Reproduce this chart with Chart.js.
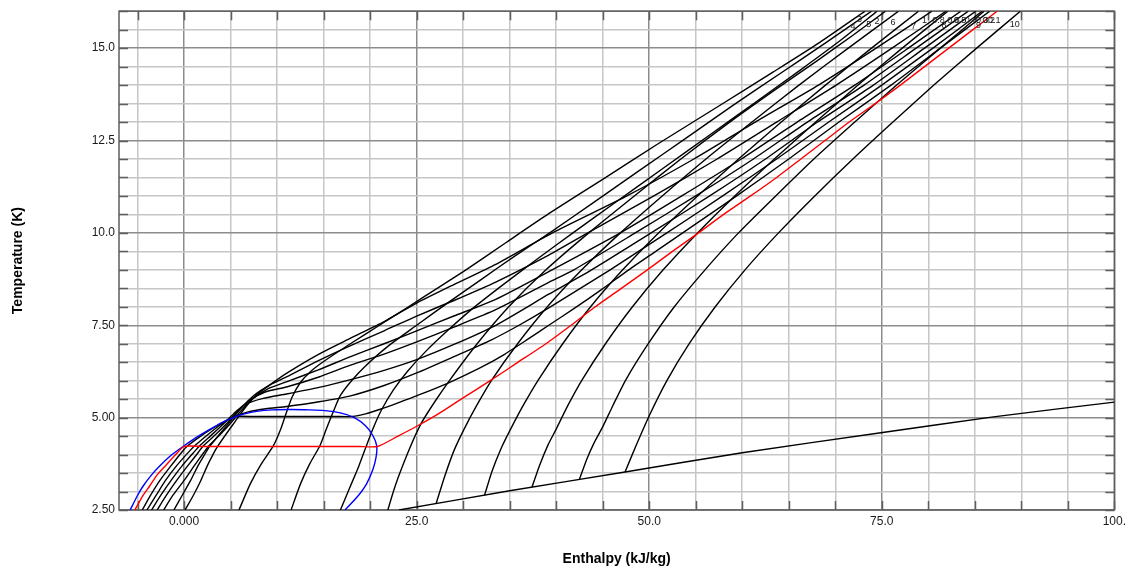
<!DOCTYPE html>
<html>
<head>
<meta charset="utf-8">
<script src="https://cdn.jsdelivr.net/npm/chart.js@4"></script>
<style>
  html, body { margin: 0; padding: 0; background: #fff; }
  #wrap { width: 1130px; height: 574px; }
</style>
</head>
<body>
<div id="wrap"><canvas id="chart"></canvas></div>
<script>
// axis grid and tick labels
const x_grid_values = [-5, 0, 5, 10, 15, 20, 25, 30, 35, 40, 45, 50, 55, 60, 65, 70, 75, 80, 85, 90, 95, 100];
const x_label_values = [0, 25, 50, 75, 100];
const x_label_texts = ['0.000', '25.0', '50.0', '75.0', '100.'];
const y_grid_values = [2.5, 3, 3.5, 4, 4.5, 5, 5.5, 6, 6.5, 7, 7.5, 8, 8.5, 9, 9.5, 10, 10.5, 11, 11.5, 12, 12.5, 13, 13.5, 14, 14.5, 15, 15.5, 16];
const y_label_values = [2.5, 5, 7.5, 10, 12.5, 15];
const y_label_texts = ['2.50', '5.00', '7.50', '10.0', '12.5', '15.0'];

// curves, [enthalpy kJ/kg, temperature K]
const sat_dome = [[-5.8,2.5],[-5.0,2.9],[-4.4,3.15],[-3.5,3.45],[-2.6,3.7],[-1.3,4.0],[0,4.24],[1.4,4.48],[2.8,4.69],[4.0,4.86],[5.3,5.0],[6.5,5.1],[7.8,5.17],[9.5,5.21],[11.5,5.22],[13.5,5.21],[15.1,5.19],[16.8,5.13],[18.3,5.0],[19.5,4.78],[20.3,4.51],[20.7,4.24],[20.65,3.95],[20.3,3.6],[19.6,3.2],[18.6,2.85],[17.3,2.5]];

const isobar_0_1 = [[-5.3,2.5],[-4.4,2.9],[-3.7,3.15],[-2.9,3.45],[-2.0,3.7],[-0.9,4.0],[0,4.22],[2,4.22],[18.8,4.22],[20.8,4.22],[23,4.5],[25.1,4.78],[27.5,5.13],[29.9,5.52],[32.9,6.0],[35.9,6.5],[38.9,7.0],[41.6,7.5],[44.2,8.0],[47.0,8.5],[49.8,9.0],[52.5,9.5],[55.3,10.0],[58.0,10.5],[60.9,11.0],[63.7,11.5],[66.3,12.0],[68.9,12.5],[71.5,13.0],[74.3,13.5],[77.0,14.0],[79.6,14.5],[82.2,15.0],[84.8,15.5],[87.4,16.0]];
const isobar_0_2 = [[-4.5,2.5],[-3.6,2.9],[-2.6,3.3],[-1.4,3.7],[-0.3,4.05],[0.3,4.22],[1.9,4.52],[3.4,4.76],[4.5,4.92],[5.6,5.03],[7.5,5.03],[16.2,5.03],[18.1,5.03],[19.5,5.1],[21,5.22],[23,5.4],[25.3,5.62],[28.5,5.95],[31.7,6.33],[34.5,6.72],[37,7.13],[39.2,7.5],[41.9,7.95],[44.9,8.47],[47.8,9.0],[50.7,9.5],[53.6,10.0],[59.4,11.0],[65.0,12.0],[70.4,13.0],[76.0,14.0],[81.3,15.0],[86.6,16.0]];
const isobar_0_3 = [[-4.0,2.5],[-3.0,2.9],[-2.0,3.3],[-0.8,3.7],[0.6,4.1],[1.2,4.25],[2.6,4.55],[4.0,4.82],[5.3,5.02],[6.8,5.15],[8.8,5.24],[11,5.3],[14.5,5.43],[17.9,5.59],[21.5,5.87],[25,6.21],[29,6.65],[33,7.1],[36,7.5],[39.2,7.97],[45.8,9.0],[51.9,10.0],[57.9,11.0],[63.7,12.0],[69.3,13.0],[75.0,14.0],[80.5,15.0],[85.8,16.0]];
const isobar_0_4 = [[-3.5,2.5],[-2.5,2.9],[-1.4,3.3],[-0.2,3.7],[1.0,4.05],[1.6,4.22],[2.9,4.52],[4.1,4.8],[5.3,5.1],[6.5,5.35],[8.5,5.52],[11,5.64],[14.5,5.82],[17.9,6.03],[21.5,6.28],[25,6.57],[29,6.98],[33.5,7.5],[39.2,8.34],[43.8,9.0],[50.2,10.0],[56.5,11.0],[62.5,12.0],[68.1,13.0],[74.1,14.0],[79.6,15.0],[85.1,16.0]];
const isobar_0_5 = [[-2.9,2.5],[-1.9,2.9],[-0.8,3.3],[0.4,3.7],[1.5,4.05],[2.0,4.22],[3.3,4.52],[4.5,4.82],[5.7,5.15],[7,5.47],[8.8,5.7],[11,5.83],[14.5,6.1],[17.9,6.42],[21.5,6.72],[25,7.05],[29,7.45],[33.5,7.92],[39.2,8.66],[41.9,9.0],[48.5,10.0],[55,11.0],[61.2,12.0],[67,13.0],[73.1,14.0],[78.7,15.0],[84.3,16.0]];
const isobar_0_6 = [[-2.2,2.5],[-1.2,2.9],[0,3.3],[1.1,3.7],[2.1,4.05],[2.6,4.22],[3.8,4.52],[4.9,4.82],[6.0,5.15],[7.3,5.5],[9,5.78],[11,5.97],[14.5,6.3],[17.9,6.65],[21.5,7.0],[25,7.35],[29,7.75],[33.5,8.2],[39.2,8.95],[46.9,10.0],[53.5,11.0],[59.9,12.0],[65.9,13.0],[72.1,14.0],[77.85,15.0],[83.5,16.0]];
const isobar_0_8 = [[-1.1,2.5],[-0.2,2.9],[0.7,3.3],[1.5,3.7],[2.2,4.0],[2.75,4.22],[3.8,4.55],[4.9,4.88],[6.1,5.25],[7.5,5.6],[9.2,5.88],[11,6.1],[14.5,6.55],[17.9,6.95],[21.5,7.35],[25,7.75],[29,8.17],[33.5,8.67],[39.2,9.4],[43.4,10.0],[50.5,11.0],[57.3,12.0],[63.7,13.0],[70.1,14.0],[76.1,15.0],[81.9,16.0]];
const isobar_1_0 = [[0.1,2.5],[1.0,2.9],[1.8,3.3],[2.5,3.7],[3.1,4.0],[3.6,4.22],[4.5,4.55],[5.5,4.9],[6.6,5.28],[7.8,5.62],[9.4,5.92],[11,6.2],[14.5,6.72],[17.9,7.15],[21.5,7.6],[25,8.1],[29,8.6],[33.5,9.15],[39.6,10.0],[47.6,11.0],[54.8,12.0],[61.4,13.0],[68.2,14.0],[74.4,15.0],[80.4,16.0]];

const isentrope_2 = [[5.9,2.5],[7.1,3.2],[8.3,3.75],[9.6,4.24],[10.4,4.7],[11.0,5.14],[11.6,5.55],[12.5,5.95],[13.6,6.25],[15,6.52],[18,7.02],[21,7.5],[24,7.98],[27.2,8.5],[30.3,9.0],[34.5,9.72],[39.2,10.52],[45,11.45],[51,12.42],[57.4,13.42],[63.3,14.35],[68.3,15.15],[73.2,16.0]];
const isentrope_3 = [[11.5,2.5],[12.5,3.2],[13.5,3.75],[14.6,4.24],[15.3,4.7],[16.0,5.14],[16.8,5.6],[18.0,6.0],[19.5,6.4],[22,6.95],[25,7.5],[28.3,8.1],[32,8.75],[35.7,9.4],[39.3,10.0],[44,10.82],[49,11.7],[54,12.57],[59,13.45],[64,14.3],[69,15.15],[73.9,16.0]];
const isentrope_4 = [[16.8,2.5],[17.8,3.1],[18.8,3.7],[19.6,4.24],[20.3,4.7],[21.2,5.2],[22.5,5.75],[24,6.25],[26,6.8],[28.3,7.35],[31,7.95],[34.3,8.6],[38,9.3],[41.8,10.0],[46.5,10.85],[51.5,11.75],[56.5,12.65],[61.5,13.55],[66.2,14.4],[70.5,15.2],[74.5,16.0]];
const isentrope_5 = [[21.9,2.5],[22.5,3.0],[23.1,3.44],[24.3,4.2],[25.5,4.85],[27.0,5.45],[28.6,6.03],[31.5,7.0],[34.9,8.0],[38.9,9.0],[43.5,10.0],[48.4,11.0],[53.4,12.0],[58.4,12.95],[63.4,13.85],[68.0,14.65],[71.9,15.35],[75.4,16.0]];
const isentrope_6 = [[27.1,2.68],[28.0,3.4],[29.0,4.1],[30.1,4.69],[31.5,5.35],[33.1,6.03],[35.85,7.0],[39.05,8.0],[42.75,9.0],[46.9,10.0],[51.4,11.0],[56.1,12.0],[61.05,13.0],[66.1,14.0],[71.4,15.0],[76.8,16.0]];
const isentrope_7 = [[32.3,2.9],[33.1,3.55],[34.1,4.18],[35.1,4.69],[36.5,5.35],[38.1,6.03],[40.7,7.0],[43.7,8.0],[47.15,9.0],[51.0,10.0],[55.2,11.0],[59.6,12.0],[64.2,13.0],[68.95,14.0],[73.9,15.0],[78.95,16.0]];
const isentrope_8 = [[37.4,3.12],[38.2,3.7],[39.1,4.25],[40.0,4.69],[41.3,5.35],[42.8,6.03],[45.3,7.0],[48.2,8.0],[51.5,9.0],[55.2,10.0],[59.2,11.0],[63.45,12.0],[67.9,13.0],[72.45,14.0],[77.2,15.0],[82.1,16.0]];
const isentrope_9 = [[42.5,3.33],[43.3,3.88],[44.1,4.33],[45.0,4.75],[46.1,5.33],[47.5,6.03],[49.9,7.0],[52.7,8.0],[56.0,9.0],[59.6,10.0],[63.6,11.0],[67.7,12.0],[72.1,13.0],[76.6,14.0],[81.3,15.0],[86.0,16.0]];
const isentrope_10 = [[47.4,3.53],[48.6,4.25],[50.0,5.05],[51.9,6.0],[54.3,7.0],[57.1,8.0],[60.3,9.0],[63.9,10.0],[67.8,11.0],[71.9,12.0],[76.2,13.0],[80.6,14.0],[85.2,15.0],[89.9,16.0]];

const lower_bound = [[23.1,2.5],[35,3.02],[47.4,3.53],[60,4.05],[74.9,4.59],[87,5.02],[100,5.42]];

// little tags at the top ends of the lines
const tag_texts = ['3', '4', '5', '2', '6', '7', '1', '0.8', '8', '0.6', '0.5', '0.4', '9', '0.3', '0.2', '0.1', '10'];
const tag_h = [72.6, 71.9, 73.6, 74.5, 76.2, 78.4, 79.6, 81.1, 81.7, 82.7, 83.4, 84.6, 85.4, 85.8, 86.5, 87.1, 89.3];
const tag_T = [15.78, 15.58, 15.64, 15.73, 15.69, 15.58, 15.76, 15.76, 15.60, 15.76, 15.76, 15.76, 15.62, 15.76, 15.76, 15.76, 15.64];

const font_family = '"Liberation Sans", Arial, sans-serif';
const grid_major = '#8c8c8c';
const grid_minor = '#c6c6c6';

Chart.defaults.font.family = font_family;

function make_set(pairs, color, width) {
    return {
        data: pairs.map(p => ({x: p[0], y: p[1]})),
        showLine: true,
        borderColor: color,
        backgroundColor: color,
        borderWidth: width,
        pointRadius: 0,
        pointHoverRadius: 0,
        tension: 0.2,
        fill: false
    };
}

// first ones end up on top
const datasets = [
    make_set(isobar_0_1, '#ff0000', 1.4),
    make_set(sat_dome, '#0000ff', 1.4),
    make_set(isobar_0_2, '#000000', 1.4),
    make_set(isobar_0_3, '#000000', 1.4),
    make_set(isobar_0_4, '#000000', 1.4),
    make_set(isobar_0_5, '#000000', 1.4),
    make_set(isobar_0_6, '#000000', 1.4),
    make_set(isobar_0_8, '#000000', 1.4),
    make_set(isobar_1_0, '#000000', 1.4),
    make_set(isentrope_2, '#000000', 1.4),
    make_set(isentrope_3, '#000000', 1.4),
    make_set(isentrope_4, '#000000', 1.4),
    make_set(isentrope_5, '#000000', 1.4),
    make_set(isentrope_6, '#000000', 1.4),
    make_set(isentrope_7, '#000000', 1.4),
    make_set(isentrope_8, '#000000', 1.4),
    make_set(isentrope_9, '#000000', 1.4),
    make_set(isentrope_10, '#000000', 1.4),
    make_set(lower_bound, '#000000', 1.4)
];

// frame plus the short inward ticks on all four sides
const frame_ticks = {
    id: 'frame_ticks',
    beforeDatasetsDraw(chart) {
        const {ctx, chartArea: a, scales: {x, y}} = chart;
        ctx.save();
        ctx.strokeStyle = '#5e5e5e';
        ctx.lineWidth = 1.5;
        ctx.beginPath();
        x_grid_values.forEach(v => {
            const px = Math.round(x.getPixelForValue(v)) + 0.5;
            ctx.moveTo(px, a.bottom);
            ctx.lineTo(px, a.bottom - 9);
            ctx.moveTo(px, a.top);
            ctx.lineTo(px, a.top + 9);
        });
        y_grid_values.forEach(v => {
            const py = Math.round(y.getPixelForValue(v)) + 0.5;
            ctx.moveTo(a.left, py);
            ctx.lineTo(a.left + 9, py);
            ctx.moveTo(a.right, py);
            ctx.lineTo(a.right - 9, py);
        });
        ctx.stroke();
        ctx.strokeRect(a.left, a.top, a.right - a.left, a.bottom - a.top);
        ctx.restore();
    }
};

const line_tags = {
    id: 'line_tags',
    afterDatasetsDraw(chart) {
        const {ctx, scales: {x, y}} = chart;
        ctx.save();
        ctx.font = '9px ' + font_family;
        ctx.fillStyle = '#222222';
        ctx.textAlign = 'center';
        ctx.textBaseline = 'middle';
        tag_texts.forEach((t, i) => {
            ctx.fillText(t, x.getPixelForValue(tag_h[i]), y.getPixelForValue(tag_T[i]));
        });
        ctx.restore();
    }
};

new Chart(document.getElementById('chart'), {
    type: 'scatter',
    data: { datasets: datasets },
    options: {
        responsive: true,
        maintainAspectRatio: false,
        animation: false,
        devicePixelRatio: 1,
        events: [],
        layout: { padding: { top: 9, right: 12, left: 0, bottom: 0 } },
        plugins: {
            legend: { display: false },
            tooltip: { enabled: false }
        },
        scales: {
            x: {
                type: 'linear',
                min: -7,
                max: 100,
                afterBuildTicks: s => { s.ticks = x_grid_values.map(v => ({value: v})); },
                afterFit: s => { s.height = 64; },
                ticks: {
                    autoSkip: false,
                    maxRotation: 0,
                    padding: 4,
                    color: '#1a1a1a',
                    font: { size: 12 },
                    callback: v => {
                        const i = x_label_values.indexOf(v);
                        return i < 0 ? '' : x_label_texts[i];
                    }
                },
                grid: {
                    drawTicks: false,
                    lineWidth: 1.5,
                    color: c => x_label_values.includes(c.tick.value) ? grid_major : grid_minor
                },
                border: { display: false },
                title: {
                    display: true,
                    text: 'Enthalpy (kJ/kg)',
                    color: '#000000',
                    font: { size: 14, weight: 'bold' },
                    padding: { top: 0, bottom: 6 }
                }
            },
            y: {
                type: 'linear',
                min: 2.5,
                max: 16,
                afterBuildTicks: s => { s.ticks = y_grid_values.map(v => ({value: v})); },
                afterFit: s => { s.width = 119; },
                ticks: {
                    autoSkip: false,
                    padding: 4,
                    color: '#1a1a1a',
                    font: { size: 12 },
                    callback: v => {
                        const i = y_label_values.indexOf(v);
                        return i < 0 ? '' : y_label_texts[i];
                    }
                },
                grid: {
                    drawTicks: false,
                    lineWidth: 1.5,
                    color: c => y_label_values.includes(c.tick.value) ? grid_major : grid_minor
                },
                border: { display: false },
                title: {
                    display: true,
                    text: 'Temperature (K)',
                    color: '#000000',
                    font: { size: 14, weight: 'bold' },
                    padding: { top: 10, bottom: 0 }
                }
            }
        }
    },
    plugins: [frame_ticks, line_tags]
});
</script>
</body>
</html>
